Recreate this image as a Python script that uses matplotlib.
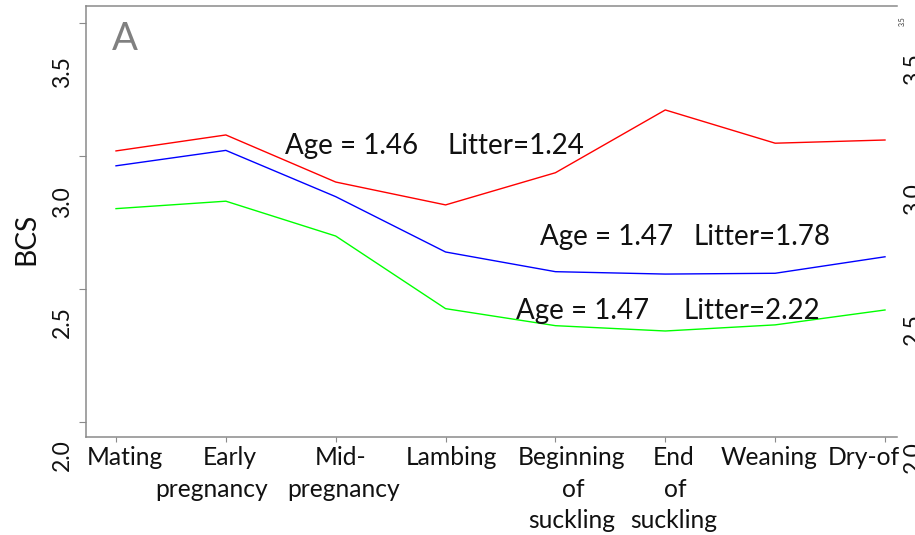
import matplotlib
matplotlib.use("Agg")
import matplotlib.pyplot as plt

W, H = 915, 535

# ---- data ----
stages = ["Mating", "Early\npregnancy", "Mid-\npregnancy", "Lambing",
          "Beginning\nof\nsuckling", "End\nof\nsuckling", "Weaning", "Dry-of"]
bcs_red = [3.018, 3.078, 2.901, 2.815, 2.936, 3.172, 3.047, 3.059]
bcs_blue = [2.962, 3.020, 2.846, 2.638, 2.564, 2.555, 2.558, 2.620]
bcs_green = [2.801, 2.829, 2.698, 2.425, 2.361, 2.341, 2.364, 2.420]
y_ticks = [2.0, 2.5, 3.0, 3.5]
y_tick_labels = ["2.0", "2.5", "3.0", "3.5"]
ages = [1.46, 1.47, 1.47]
litters = [1.24, 1.78, 2.22]
panel = "A"
ylabel = "BCS"

FONT = ["Lato", "DejaVu Sans"]
plt.rcParams["font.family"] = FONT

fig = plt.figure(figsize=(W / 100, H / 100), dpi=100)
ax = fig.add_axes([86 / W, (H - 437) / H, 811 / W, 431 / H])

x = list(range(1, len(stages) + 1))
ax.plot(x, bcs_red, color="#FF0000", lw=1.0)
ax.plot(x, bcs_blue, color="#0000FF", lw=1.0)
ax.plot(x, bcs_green, color="#00FF00", lw=1.0)

ax.set_xlim(1 - 30 / 109.86, 8 + 12 / 109.86)
ax.set_ylim(2.0 - 15.3 / 266, 3.5 + 16.7 / 266)

spine_c = "#8a8a8a"
for s in ["left", "bottom", "top"]:
    ax.spines[s].set_color(spine_c)
    ax.spines[s].set_linewidth(1.1)
ax.spines["right"].set_visible(False)

ax.set_yticks(y_ticks)
ax.set_yticklabels([])
ax.tick_params(axis="y", length=5, width=0.8, color=spine_c)
ax.set_xticks(x)
ax.set_xticklabels([])
ax.tick_params(axis="x", length=3.5, width=0.8, color=spine_c)

r = fig.canvas.get_renderer()


def P(px, py):
    return (px / W, 1 - py / H)


def fit(t, target, vertical=False):
    bb = t.get_window_extent(r)
    cur = bb.height if vertical else bb.width
    t.set_fontsize(t.get_fontsize() * target / cur)
    return t.get_fontsize()


# x category labels (placed line by line)
probe = fig.text(0, 0, "Mating", fontsize=18)
lab_fs = fit(probe, 76)
probe.remove()
label_cx = [[125], [229.5, 211.5], [341, 344], [451], [571, 573, 571.5],
            [674, 675, 674], [769], [864]]
baselines = [465, 497, 528]
for lab, cxs in zip(stages, label_cx):
    for j, (line, cx) in enumerate(zip(lab.split("\n"), cxs)):
        fig.text(*P(cx, baselines[j]), line, fontsize=lab_fs, ha="center",
                 va="baseline", color="#111111")

# left y tick labels
left_cy = [455, 322, 202, 72]
for lab, cy in zip(y_tick_labels, left_cy):
    fig.text(*P(62.5, cy), lab, fontsize=lab_fs * 0.93, rotation=90,
             ha="center", va="center", color="#111111")

# right (cropped) tick labels, as in the reference
right_cy = [457, 329, 199, 69]
for lab, cy in zip(y_tick_labels, right_cy):
    fig.text(*P(903, cy), lab, fontsize=lab_fs * 0.93, rotation=90,
             ha="left", va="center", color="#111111")
fig.text(*P(899, 21), y_tick_labels[-1], fontsize=5, rotation=90,
         ha="left", va="center", color="#333333")

# y label
yl = fig.text(*P(26, 239), ylabel, fontsize=22, rotation=90, ha="center",
              va="center", color="#111111")
fit(yl, 52, vertical=True)

# panel letter
pa = fig.text(*P(112, 50), panel, fontsize=28, ha="left", va="baseline",
              color="#808080")
fit(pa, 26)

# annotations
probe = fig.text(0, 0, "Litter=1.24", fontsize=20)
ann_fs = fit(probe, 137)
probe.remove()
age_x = [285, 540, 516]
lit_x = [448, 694, 683]
ann_base = [154.3, 245, 319]
for a, l, ax_, lx, b in zip(ages, litters, age_x, lit_x, ann_base):
    fig.text(*P(ax_, b), f"Age = {a:.2f}", fontsize=ann_fs, ha="left",
             va="baseline", color="#111111")
    fig.text(*P(lx, b), f"Litter={l:.2f}", fontsize=ann_fs, ha="left",
             va="baseline", color="#111111")

fig.savefig("out.png", dpi=100)
